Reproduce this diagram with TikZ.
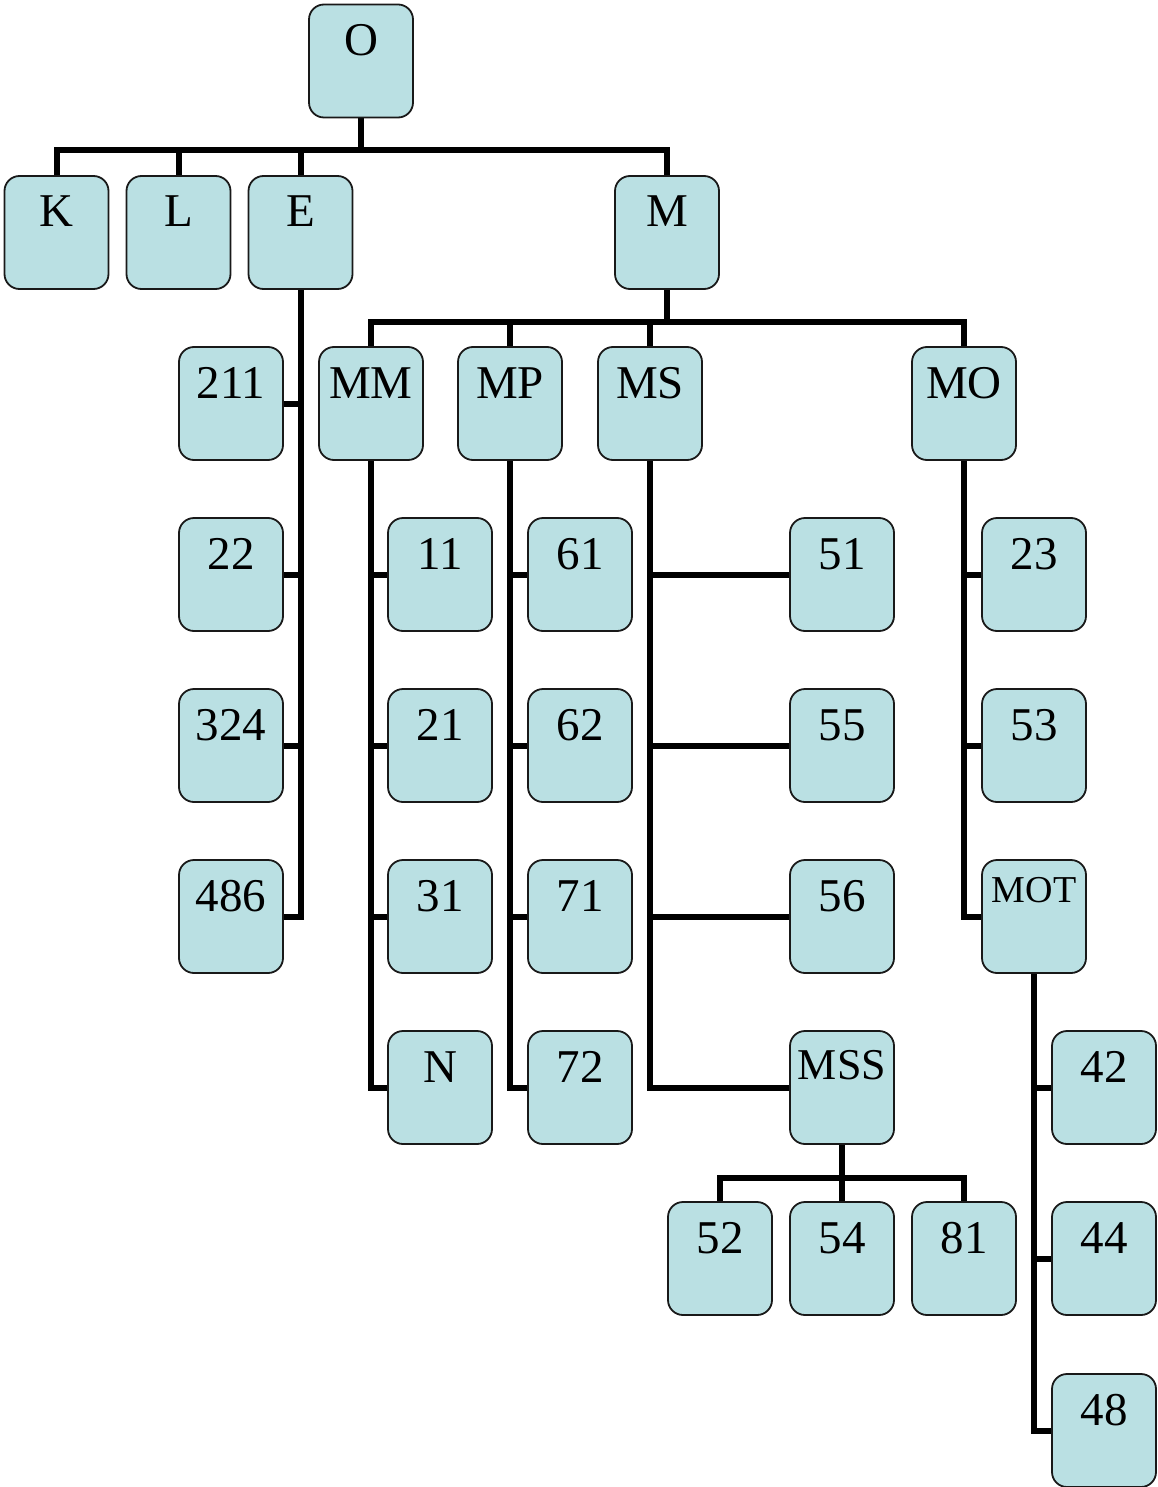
\documentclass[tikz,border=0pt]{standalone}
\usepackage{fontspec}
\setmainfont{Liberation Serif}
\usetikzlibrary{backgrounds}
\definecolor{boxfill}{RGB}{186,224,227}
\begin{document}
\begin{tikzpicture}[x=1pt,y=-1pt,
  box/.style={draw=black!90, line width=1.8pt, fill=boxfill, rounded corners=15pt,
    minimum width=104pt, inner xsep=0pt, inner ysep=0pt,
    text height=51pt, text depth=62pt, font=\fontsize{47}{52}\selectfont},
  smallbox/.style={box, text height=42pt, text depth=71pt, font=\fontsize{38}{42}\selectfont},
  midbox/.style={box, text height=48pt, text depth=65pt, font=\fontsize{44}{48}\selectfont},
  link/.style={line width=6pt, line join=miter}]
\useasboundingbox (0,0) rectangle (1157,1487);

% top levels
\node[box] (O) at (361,61) {O};
\node[box] (K) at (56.5,232.5) {K};
\node[box] (L) at (178.5,232.5) {L};
\node[box] (E) at (300.5,232.5) {E};
\node[box] (M) at (667,232.5) {M};

% children of E
\node[box] (n211) at (231,403.5) {211};
\node[box] (n22)  at (231,574.5) {22};
\node[box] (n324) at (231,745.5) {324};
\node[box] (n486) at (231,916.5) {486};

% children of M
\node[box] (MM) at (371,403.5) {MM};
\node[box] (MP) at (510,403.5) {MP};
\node[box] (MS) at (650,403.5) {MS};
\node[box] (MO) at (964,403.5) {MO};

% MM column
\node[box] (n11) at (440,574.5) {11};
\node[box] (n21) at (440,745.5) {21};
\node[box] (n31) at (440,916.5) {31};
\node[box] (N)   at (440,1087.5) {N};

% MP column
\node[box] (n61) at (580,574.5) {61};
\node[box] (n62) at (580,745.5) {62};
\node[box] (n71) at (580,916.5) {71};
\node[box] (n72) at (580,1087.5) {72};

% MS column
\node[box] (n51) at (842,574.5) {51};
\node[box] (n55) at (842,745.5) {55};
\node[box] (n56) at (842,916.5) {56};
\node[midbox] (MSS) at (842,1087.5) {MSS};
\node[box] (n52) at (720,1258.5) {52};
\node[box] (n54) at (842,1258.5) {54};
\node[box] (n81) at (964,1258.5) {81};

% MO column
\node[box] (n23) at (1034,574.5) {23};
\node[box] (n53) at (1034,745.5) {53};
\node[smallbox] (MOT) at (1034,916.5) {MOT};
\node[box] (n42) at (1104,1087.5) {42};
\node[box] (n44) at (1104,1258.5) {44};
\node[box] (n48) at (1104,1430.5) {48};

% bus points
\coordinate (busO) at (361,150);
\coordinate (busM) at (667,322);
\coordinate (busMSS) at (842,1178);

\begin{pgfonlayer}{background}
  % O to first level
  \draw[link] (O.south) -- (busO);
  \draw[link] (K.north) |- (busO) -| (M.north);
  \draw[link] (L.north) -- (L.north |- busO);
  \draw[link] (E.north) -- (E.north |- busO);

  % E chain
  \draw[link] (E.south) -- (E.south |- n486.east) -- (n486.east);
  \foreach \c in {n211,n22,n324}
    \draw[link] (\c.east) -- (\c.east -| E.south);

  % M to second level
  \draw[link] (M.south) -- (busM);
  \draw[link] (MM.north) |- (busM) -| (MO.north);
  \draw[link] (MP.north) -- (MP.north |- busM);
  \draw[link] (MS.north) -- (MS.north |- busM);

  % MM chain
  \draw[link] (MM.south) |- (N.west);
  \foreach \c in {n11,n21,n31}
    \draw[link] (\c.west) -- (\c.west -| MM.south);

  % MP chain
  \draw[link] (MP.south) |- (n72.west);
  \foreach \c in {n61,n62,n71}
    \draw[link] (\c.west) -- (\c.west -| MP.south);

  % MS chain
  \draw[link] (MS.south) |- (MSS.west);
  \foreach \c in {n51,n55,n56}
    \draw[link] (\c.west) -- (\c.west -| MS.south);

  % MSS children
  \draw[link] (MSS.south) -- (n54.north);
  \draw[link] (n52.north) |- (busMSS) -| (n81.north);

  % MO chain
  \draw[link] (MO.south) |- (MOT.west);
  \foreach \c in {n23,n53}
    \draw[link] (\c.west) -- (\c.west -| MO.south);

  % MOT chain
  \draw[link] (MOT.south) |- (n48.west);
  \foreach \c in {n42,n44}
    \draw[link] (\c.west) -- (\c.west -| MOT.south);
\end{pgfonlayer}
\end{tikzpicture}
\end{document}
